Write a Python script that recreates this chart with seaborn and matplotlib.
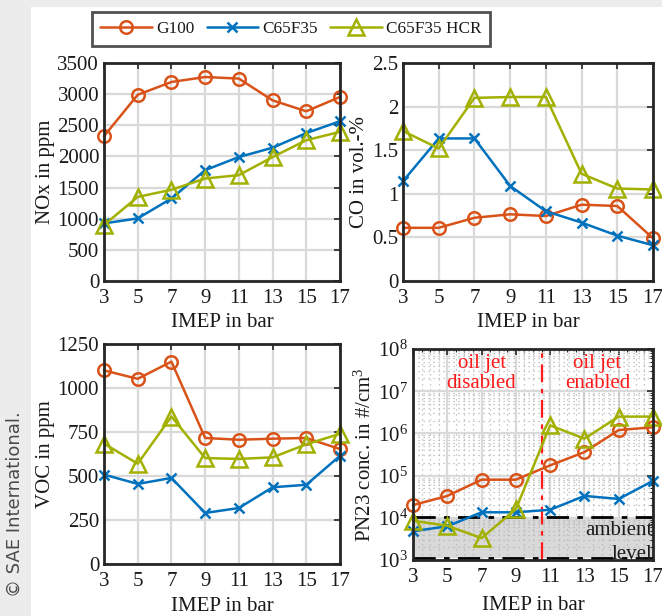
import numpy as np
import pandas as pd
import matplotlib
matplotlib.use("Agg")
import matplotlib.pyplot as plt
import matplotlib.ticker as mticker
from matplotlib.patches import Rectangle
from matplotlib.lines import Line2D
import seaborn as sns

# ---- data ----
imep = [3, 5, 7, 9, 11, 13, 15, 17]
fuels = ["G100", "C65F35", "C65F35 HCR"]

nox_g100 = [2325, 2990, 3195, 3275, 3250, 2900, 2725, 2955]
nox_c65 = [925, 1005, 1325, 1780, 1990, 2140, 2375, 2565]
nox_hcr = [900, 1350, 1465, 1645, 1700, 1990, 2260, 2395]

co_g100 = [0.61, 0.61, 0.725, 0.765, 0.745, 0.875, 0.86, 0.49]
co_c65 = [1.145, 1.635, 1.635, 1.09, 0.80, 0.67, 0.52, 0.41]
co_hcr = [1.72, 1.52, 2.10, 2.11, 2.11, 1.23, 1.06, 1.05]

voc_g100 = [1100, 1052, 1150, 716, 706, 712, 716, 653]
voc_c65 = [508, 455, 489, 290, 318, 436, 450, 615]
voc_hcr = [684, 570, 838, 602, 597, 606, 680, 740]

pn_g100 = [2.0e4, 3.3e4, 8.0e4, 8.0e4, 1.75e5, 3.6e5, 1.2e6, 1.4e6]
pn_c65 = [4.8e3, 6.3e3, 1.35e4, 1.35e4, 1.55e4, 3.3e4, 2.8e4, 7.5e4]
pn_hcr = [8.5e3, 6.5e3, 3.3e3, 1.6e4, 1.55e6, 7.5e5, 2.5e6, 2.5e6]

ambient_low, ambient_high = 1.1e3, 1.05e4
oil_jet_switch = 10.5

colors = {"G100": "#D95319", "C65F35": "#0072BD", "C65F35 HCR": "#A2B000"}
markers = {"G100": "o", "C65F35": "x", "C65F35 HCR": "^"}
msizes = {"G100": 9, "C65F35": 7, "C65F35 HCR": 11}


def long_table(g, c, h):
    frames = []
    for name, vals in zip(fuels, (g, c, h)):
        frames.append(pd.DataFrame({"IMEP": imep, "fuel": name, "value": vals}))
    return pd.concat(frames, ignore_index=True)


nox = long_table(nox_g100, nox_c65, nox_hcr)
co = long_table(co_g100, co_c65, co_hcr)
voc = long_table(voc_g100, voc_c65, voc_hcr)
pn = long_table(pn_g100, pn_c65, pn_hcr)

# ---- style ----
sns.set_theme(style="white")
plt.rcParams["font.family"] = ["Liberation Serif", "DejaVu Serif"]
plt.rcParams["mathtext.fontset"] = "custom"
plt.rcParams["mathtext.rm"] = "Liberation Serif"
plt.rcParams["mathtext.it"] = "Liberation Serif:italic"
plt.rcParams["mathtext.bf"] = "Liberation Serif:bold"
plt.rcParams["axes.unicode_minus"] = False

FS = 15
LEG_FS = 12.4
spine_c = "#262626"
grid_c = "#d9d9d9"
text_c = "#1a1a1a"

fig = plt.figure(figsize=(6.62, 6.16), dpi=100)
fig.patch.set_facecolor("#ececec")
fig.add_artist(Rectangle((31 / 662, 0), 1, 1 - 7 / 616, transform=fig.transFigure,
                         facecolor="white", edgecolor="none", zorder=0))


def frac(l, r, t, b):
    return [l / 662, 1 - b / 616, (r - l) / 662, (b - t) / 616]


ax_nox = fig.add_axes(frac(104, 340, 63, 281))
ax_co = fig.add_axes(frac(403, 653, 63, 281))
ax_voc = fig.add_axes(frac(104, 340, 344, 564))
ax_pn = fig.add_axes(frac(413, 653, 349, 560))


def draw(ax, df):
    for name in fuels:
        sub = df[df["fuel"] == name]
        sns.lineplot(data=sub, x="IMEP", y="value", ax=ax, color=colors[name],
                     marker=markers[name], markersize=msizes[name],
                     markerfacecolor="none", markeredgecolor=colors[name],
                     markeredgewidth=1.8, linewidth=1.8, legend=False,
                     zorder=5, clip_on=False)


def style(ax, ylabel, ylim, yticks=None, xlabelpad=3):
    ax.set_xlim(3, 17)
    ax.set_xticks(imep)
    ax.set_ylim(*ylim)
    if yticks is not None:
        ax.set_yticks(yticks)
    ax.set_axisbelow(True)
    ax.grid(True, which="major", color=grid_c, linewidth=1.6)
    for s in ax.spines.values():
        s.set_color(spine_c)
        s.set_linewidth(2.0)
        s.set_zorder(6)
    ax.tick_params(which="major", direction="in", length=4, width=1.2,
                   top=True, right=True, colors=spine_c, labelsize=FS,
                   labelcolor=text_c)
    ax.tick_params(axis="x", pad=6)
    ax.tick_params(axis="y", pad=3.5)
    ax.set_xlabel("IMEP in bar", fontsize=FS, color=text_c, labelpad=xlabelpad)
    ax.set_ylabel(ylabel, fontsize=FS, color=text_c, labelpad=2)


draw(ax_nox, nox)
style(ax_nox, "NOx in ppm", (0, 3500), np.arange(0, 3501, 500))

draw(ax_co, co)
style(ax_co, "CO in vol.-%", (0, 2.5), np.arange(0, 2.51, 0.5))
ax_co.yaxis.set_major_formatter(mticker.FuncFormatter(lambda v, p: f"{v:g}"))

draw(ax_voc, voc)
style(ax_voc, "VOC in ppm", (0, 1250), np.arange(0, 1251, 250), xlabelpad=4)

# particle number, log scale with ambient band and oil-jet switch
ax_pn.set_yscale("log")
draw(ax_pn, pn)
style(ax_pn, "PN23 conc. in #/cm$^3$", (1e3, 1e8), xlabelpad=6)
ax_pn.yaxis.set_major_locator(mticker.LogLocator(base=10, numticks=10))
ax_pn.yaxis.set_minor_locator(mticker.LogLocator(base=10, subs=np.arange(2, 10), numticks=20))
ax_pn.yaxis.set_minor_formatter(mticker.NullFormatter())
ax_pn.xaxis.set_minor_locator(mticker.MultipleLocator(0.5))
ax_pn.tick_params(which="minor", direction="in", length=2, width=0.8,
                  top=True, right=True, colors=spine_c)
ax_pn.grid(True, which="minor", color="#b5b5b5", linewidth=0.9, linestyle=(0, (1, 3)))

ax_pn.axhspan(ambient_low, ambient_high, color="#d9d9d9", zorder=0.2, lw=0)
for yv in (ambient_low, ambient_high):
    ax_pn.axhline(yv, color="black", linewidth=2.0, linestyle=(0, (8, 3, 2, 3)), zorder=3)
ax_pn.text(16.95, 5.1e3, "ambient", ha="right", va="center", fontsize=FS, color=text_c, zorder=4)
ax_pn.text(16.95, 1.35e3, "level", ha="right", va="center", fontsize=FS, color=text_c, zorder=4)

ax_pn.axvline(oil_jet_switch, color="#ff1a1a", linewidth=1.6,
              linestyle=(0, (8, 3, 2, 3)), zorder=4)
ax_pn.text(7.0, 2.6e7, "oil jet\ndisabled", ha="center", va="center", fontsize=FS,
           color="#ff1a1a", linespacing=1.05, zorder=4)
ax_pn.text(13.75, 2.6e7, "oil jet\nenabled", ha="center", va="center", fontsize=FS,
           color="#ff1a1a", linespacing=1.05, zorder=4)

# shared legend
handles = [Line2D([], [], color=colors[n], marker=markers[n], markersize=msizes[n],
                  markerfacecolor="none", markeredgecolor=colors[n],
                  markeredgewidth=1.8, linewidth=1.8) for n in fuels]
leg = fig.legend(handles, fuels, loc="center", bbox_to_anchor=(291 / 662, 1 - 29 / 616),
                 ncol=3, fontsize=LEG_FS, frameon=True, fancybox=False,
                 handlelength=3.0, columnspacing=0.7, handletextpad=0.25,
                 borderpad=0.5, borderaxespad=0)
leg.get_frame().set_edgecolor(spine_c)
leg.get_frame().set_linewidth(2.0)
for t in leg.get_texts():
    t.set_color(text_c)

fig.text(15 / 662, 1 - 504 / 616, "\u00a9 SAE International.", rotation=90,
         ha="center", va="center", fontsize=13, color="#4a4a4a",
         family=["DejaVu Sans"])

fig.savefig("out.png", dpi=100, facecolor=fig.get_facecolor())
